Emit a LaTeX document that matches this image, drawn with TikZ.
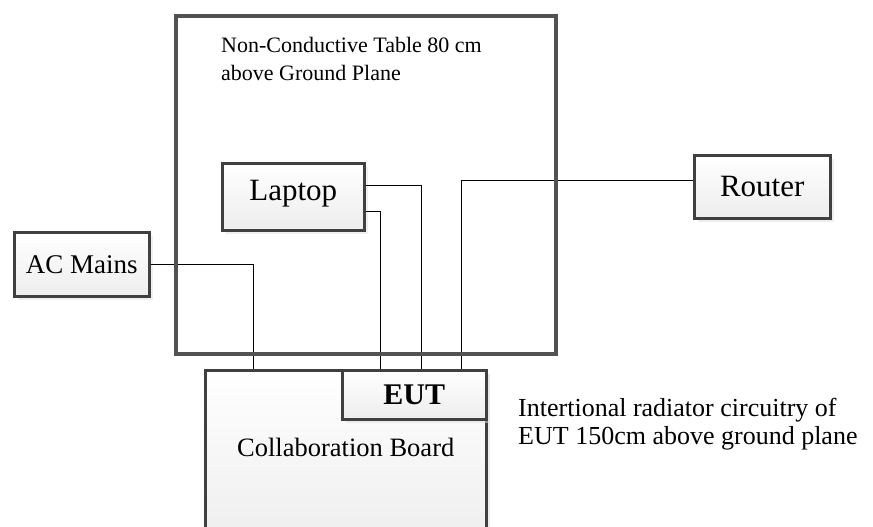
\documentclass[tikz,border=0pt]{standalone}
\usepackage{fontspec}
\setmainfont{Liberation Serif}
\usepackage{tikz}
\usetikzlibrary{positioning,calc,shadows}

\begin{document}
\begin{tikzpicture}[
	x=1pt, y=-1pt,
	device_box/.style={
		draw=black!75, line width=2.5pt,
		top color=white, bottom color=black!7,
		drop shadow={shadow xshift=4pt, shadow yshift=-4pt, fill=black!12},
		inner sep=0pt, anchor=north west
	},
	table_frame/.style={
		draw=black!68, line width=4pt, inner sep=0pt, anchor=north west
	},
	wire/.style={black, line width=0.9pt}
	]
	\useasboundingbox (0,0) rectangle (873,527);
	
	% --- 1. Geraete ---
	\node[device_box, minimum width=142, minimum height=67, text depth=13pt, font=\fontsize{31}{36}\selectfont] (laptop) at (221,162) {Laptop};
	\node[device_box, minimum width=136, minimum height=63, font=\fontsize{31}{36}\selectfont] (router) at (693,154) {Router};
	\node[device_box, minimum width=135, minimum height=64, font=\fontsize{27}{32}\selectfont] (acmains) at (13,231) {AC Mains};
	
	% --- 2. Board mit EUT ---
	\node[device_box, minimum width=281, minimum height=180] (board) at (204,369) {};
	\node[font=\fontsize{26.5}{30}\selectfont] (board_lbl) at ([yshift=-78pt]board.north) {Collaboration Board};
	\node[device_box, minimum width=144, minimum height=49, font=\bfseries\fontsize{30}{34}\selectfont] (eut) at (341,369) {EUT};
	
	% --- 3. Leitungen ---
	\draw[wire] (acmains.east) -| ([xshift=49pt]board.north west);
	\draw[wire] ([yshift=11pt]laptop.east) -| ([xshift=80pt]eut.north west);
	\draw[wire] ([yshift=-15pt]laptop.east) -| ([xshift=39pt]eut.north west);
	\draw[wire] ([yshift=6pt]router.west) -| ([xshift=120pt]eut.north west);
	
	% --- 4. Tisch ---
	\node[table_frame, minimum width=380, minimum height=338] (table) at (174,14) {};
	\node[anchor=north west, align=left, inner sep=0pt, font=\fontsize{22}{28}\selectfont] (table_lbl) at (221,37)
	{Non-Conductive Table 80 cm\\above Ground Plane};
	
	% --- 5. Hinweis ---
	\node[anchor=north west, align=left, inner sep=0pt, font=\fontsize{26}{28}\selectfont] (note) at (518,398)
	{Intertional radiator circuitry of\\EUT 150cm above ground plane};
	
\end{tikzpicture}
\end{document}
